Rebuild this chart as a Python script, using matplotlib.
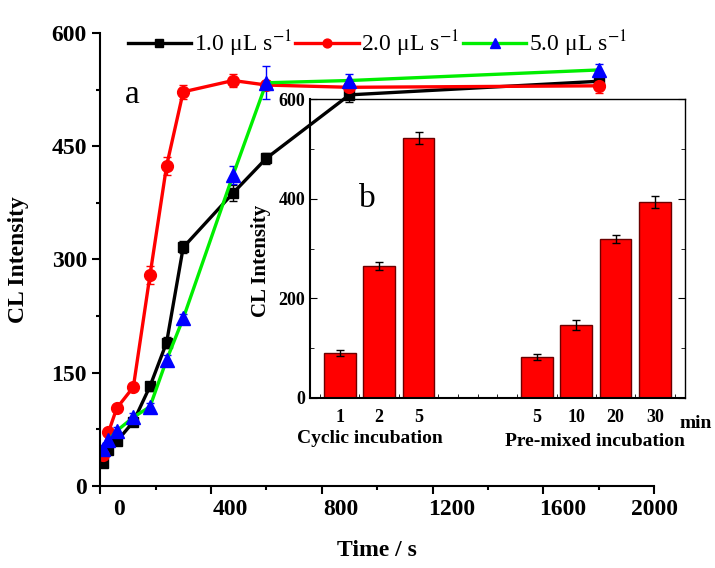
import numpy as np
import matplotlib
matplotlib.use("Agg")
import matplotlib.pyplot as plt
from matplotlib.lines import Line2D
from matplotlib.transforms import ScaledTranslation

plt.rcParams['font.family'] = ['Liberation Serif', 'DejaVu Serif']
plt.rcParams['mathtext.fontset'] = 'stix'

# main plot data
time_s = [10, 30, 60, 120, 180, 240, 300, 480, 600, 900, 1800]
cl_1 = [31, 47, 59, 85, 132, 190, 316, 388, 434, 518, 536]
err_1 = [5, 5, 5, 5, 6, 7, 8, 10, 7, 10, 6]
cl_2 = [41, 71, 103, 131, 279, 424, 522, 537, 531, 528, 530]
err_2 = [4, 4, 4, 4, 12, 12, 9, 9, 6, 6, 10]
cl_5 = [49, 61, 73, 91, 105, 167, 222, 412, 534, 537, 551]
err_5 = [5, 5, 5, 5, 5, 6, 6, 12, 22, 8, 8]
series_labels = ['1.0 \u03bcL s$^{-1}$', '2.0 \u03bcL s$^{-1}$', '5.0 \u03bcL s$^{-1}$']

# inset data
bar_pos = [1, 2, 3, 6, 7, 8, 9]
bar_ticks = ['1', '2', '5', '5', '10', '20', '30']
bar_vals = [90, 264, 522, 83, 146, 319, 393]
bar_err = [6, 8, 12, 6, 10, 8, 12]

fig = plt.figure(figsize=(7.15, 5.68), dpi=100)
ax = fig.add_axes([0.14, 0.1444, 0.775, 0.7976], zorder=2)
ax.patch.set_alpha(0)
ins = fig.add_axes([0.4336, 0.2993, 0.5245, 0.5264], zorder=1)

styles = [('black', 's', 7.5), ('red', 'o', 8.5), ('blue', '^', 9.5)]
lcols = ['black', 'red', '#00ee00']
handles = []
for (col, mk, ms), lc, y, e, lab in zip(styles, lcols, [cl_1, cl_2, cl_5],
                                       [err_1, err_2, err_5], series_labels):
    ax.errorbar(time_s, y, yerr=e, color=lc, ecolor=col, elinewidth=1,
                capsize=3, lw=2.4, marker=mk, ms=ms, mfc=col, mec=col)
    handles.append(Line2D([], [], color=lc, lw=2.4, marker=mk, ms=ms * 0.75,
                          mfc=col, mec=col, label=lab))

ax.set_xlim(0, 2000)
ax.set_ylim(0, 600)
ax.set_xticks(np.arange(0, 2001, 400))
ax.set_xticks(np.arange(0, 2001, 200), minor=True)
ax.set_yticks(np.arange(0, 601, 150))
ax.set_yticks(np.arange(0, 601, 75), minor=True)
for s in ['top', 'right']:
    ax.spines[s].set_visible(False)
for s in ['left', 'bottom']:
    ax.spines[s].set_linewidth(1.5)
ax.tick_params(which='major', length=6, width=1.5, labelsize=17)
ax.tick_params(which='minor', length=3, width=1.5)
for lbl in ax.get_xticklabels() + ax.get_yticklabels():
    lbl.set_fontweight('bold')
for lbl in ax.get_xticklabels()[:-1]:
    lbl.set_transform(lbl.get_transform() + ScaledTranslation(0.19, 0, fig.dpi_scale_trans))
ax.set_xlabel('Time / s', fontsize=17, fontweight='bold', labelpad=14)
ax.set_ylabel('CL Intensity', fontsize=17, fontweight='bold', labelpad=16)
ax.text(0.045, 0.845, 'a', transform=ax.transAxes, fontsize=24)
ax.legend(handles=handles, loc='upper center', bbox_to_anchor=(0.5, 1.03), ncol=3,
          frameon=False, fontsize=17, handlelength=2.7, handletextpad=0.1,
          columnspacing=0.15, borderaxespad=0)

# inset bars
ins.bar(bar_pos, bar_vals, width=0.8, color='red', edgecolor='#6b0000', lw=1,
        yerr=bar_err, error_kw=dict(ecolor='black', elinewidth=1, capsize=3))
ins.set_xlim(0.246, 9.76)
ins.set_ylim(0, 600)
ins.set_xticks(bar_pos)
ins.set_xticklabels(bar_ticks)
ins.set_xticks(np.arange(0.5, 9.76, 0.5), minor=True)
ins.set_yticks(np.arange(0, 601, 200))
ins.set_yticks(np.arange(0, 601, 100), minor=True)
ins.tick_params(which='both', right=True, direction='in', labelsize=13)
ins.tick_params(axis='x', which='major', direction='in', length=0, pad=8)
ins.tick_params(axis='x', which='minor', length=3)
ins.tick_params(axis='y', which='major', length=5)
ins.tick_params(axis='y', which='minor', length=3)
for lbl in ins.get_xticklabels() + ins.get_yticklabels():
    lbl.set_fontweight('bold')
for s in ins.spines.values():
    s.set_linewidth(1.5)
ins.spines['top'].set_linewidth(1)
ins.spines['right'].set_linewidth(1)
ins.set_ylabel('CL Intensity', fontsize=15, fontweight='bold')
ins.yaxis.set_label_coords(-0.105, 0.46)
ins.text(0.13, 0.64, 'b', transform=ins.transAxes, fontsize=24)
ins.text(0.985, -0.1, 'min', transform=ins.transAxes, fontsize=14, fontweight='bold')
ins.text(0.16, -0.15, 'Cyclic incubation', transform=ins.transAxes, fontsize=14,
         fontweight='bold', ha='center')
ins.text(0.76, -0.16, 'Pre-mixed incubation', transform=ins.transAxes, fontsize=14,
         fontweight='bold', ha='center')

fig.savefig('out.png', dpi=100)
